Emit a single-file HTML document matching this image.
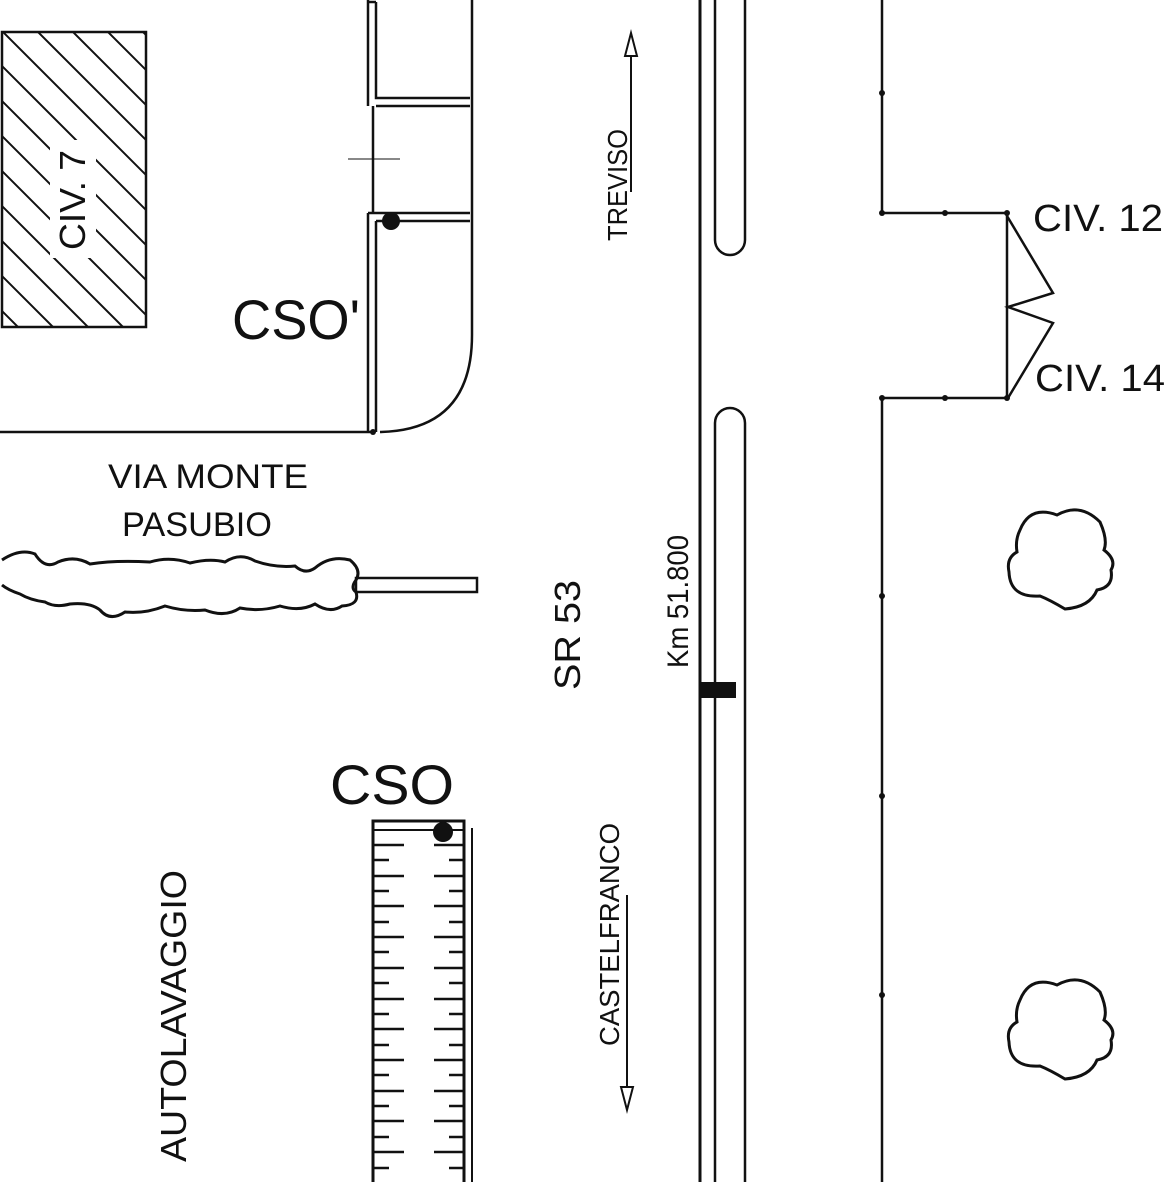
<!DOCTYPE html>
<html><head><meta charset="utf-8"><style>
html,body{margin:0;padding:0;background:#fff}
svg{display:block}
text{font-family:"Liberation Sans",sans-serif;fill:#111}
</style></head><body>
<svg width="1174" height="1182" viewBox="0 0 1174 1182" xmlns="http://www.w3.org/2000/svg">
<defs>
<clipPath id="hc"><rect x="2" y="32" width="144" height="295"/></clipPath>
</defs>
<g fill="none" stroke="#111" stroke-width="2.5">
<!-- hatched building -->
<g clip-path="url(#hc)" stroke-width="2">
<path d="M111 0 L511 400 M76 0 L476 400 M41 0 L441 400 M6 0 L406 400 M-29 0 L371 400 M-64 0 L336 400 M-99 0 L301 400 M-134 0 L266 400 M-169 0 L231 400 M-204 0 L196 400 M-239 0 L161 400 M-274 0 L126 400 M-309 0 L91 400 M-344 0 L56 400"/>
<rect x="50" y="140" width="46" height="118" fill="#fff" stroke="none"/>
</g>
<rect x="2" y="32" width="144" height="295"/>
<!-- building lines top -->
<path d="M368 0 V106 M376 2 V98 H470 M376 106 H470 M368 2 H376"/>
<path d="M373 106 V213"/>
<path d="M368 213 V432 M376 221 V432 M368 213 H470 M376 221 H470"/>
<path d="M472 0 V335 Q472 430 380 432"/>
<path d="M0 432 H373"/>
<path d="M348 159 H400" stroke-width="1"/>
<!-- cloud strip -->
<path d="M2 560 Q20 548 35 554 Q45 570 58 562 Q75 555 90 564 Q115 560 150 562 Q170 556 190 563 Q210 558 225 562 Q240 552 255 561 Q275 568 295 566 Q305 575 315 568 Q330 555 350 560 Q362 570 356 580 Q350 588 356 592 Q360 605 342 606 Q330 614 315 604 Q300 612 280 606 Q260 612 240 608 Q225 618 205 610 Q185 612 165 606 Q145 614 125 612 Q110 622 100 610 Q90 602 70 604 Q55 608 45 602 Q30 600 20 594 Q8 590 2 585" stroke-width="3"/>
<rect x="356" y="578" width="121" height="14"/>
<!-- main road -->
<path d="M700 0 V1182" stroke-width="3"/>
<path d="M715 0 V240 A15 15 0 0 0 745 240 V0"/>
<path d="M715 1182 V423 A15 15 0 0 1 745 423 V1182"/>
<!-- arrows -->
<path d="M631 192 V57" stroke-width="2"/>
<path d="M631 33 L625 56 H637 Z" stroke-width="2"/>
<path d="M627 895 V1087" stroke-width="2"/>
<path d="M627 1110 L621 1087 H633 Z" stroke-width="2"/>
<!-- right side -->
<path d="M882 0 V213 H1007 V398 H882 V1182"/>
<path d="M1007 216 L1053 293 L1008 307 L1053 323 L1008 398"/>
<!-- bushes -->
<path d="M1020 530 Q1030 505 1057 515 Q1080 502 1100 522 Q1108 540 1104 550 Q1117 560 1111 570 Q1114 587 1097 590 Q1090 607 1065 609 Q1050 600 1040 596 Q1010 598 1009 572 Q1006 558 1017 552 Q1015 540 1020 530 Z" stroke-width="3"/>
<path d="M1020 1000 Q1030 975 1057 985 Q1080 972 1100 992 Q1108 1010 1104 1020 Q1117 1030 1111 1040 Q1114 1057 1097 1060 Q1090 1077 1065 1079 Q1050 1070 1040 1066 Q1010 1068 1009 1042 Q1006 1028 1017 1022 Q1015 1010 1020 1000 Z" stroke-width="3"/>
<!-- ruler -->
<path d="M373 1182 V821 H464 V1182" stroke-width="3"/>
<path d="M373 830 H464" stroke-width="2"/>
<path d="M472 828 V1182" stroke-width="2"/>
</g>
<g stroke="#111" stroke-width="2.5">
<path d="M373 845H404M434 845H464M373 860H389M449 860H464M373 876H404M434 876H464M373 891H389M449 891H464M373 906H404M434 906H464M373 922H389M449 922H464M373 937H404M434 937H464M373 952H389M449 952H464M373 968H404M434 968H464M373 983H389M449 983H464M373 999H404M434 999H464M373 1014H389M449 1014H464M373 1029H404M434 1029H464M373 1045H389M449 1045H464M373 1060H404M434 1060H464M373 1075H389M449 1075H464M373 1091H404M434 1091H464M373 1106H389M449 1106H464M373 1121H404M434 1121H464M373 1137H389M449 1137H464M373 1152H404M434 1152H464M373 1168H389M449 1168H464"/>
</g>
<g fill="#111">
<circle cx="391" cy="221" r="9"/>
<circle cx="443" cy="832" r="10"/>
<rect x="700" y="682" width="36" height="16"/>
<circle cx="882" cy="93" r="3"/><circle cx="882" cy="213" r="3"/><circle cx="945" cy="213" r="3"/><circle cx="1007" cy="213" r="3"/>
<circle cx="882" cy="398" r="3"/><circle cx="945" cy="398" r="3"/><circle cx="1007" cy="398" r="3"/>
<circle cx="882" cy="596" r="3"/><circle cx="882" cy="796" r="3"/><circle cx="882" cy="995" r="3"/>
<circle cx="373" cy="432" r="3"/>
</g>
<!-- text -->
<text x="232" y="339" font-size="56" textLength="128" lengthAdjust="spacingAndGlyphs">CSO'</text>
<text x="330" y="804" font-size="56" textLength="124" lengthAdjust="spacingAndGlyphs">CSO</text>
<text x="108" y="488" font-size="34" textLength="200" lengthAdjust="spacingAndGlyphs">VIA MONTE</text>
<text x="122" y="536" font-size="34" textLength="150" lengthAdjust="spacingAndGlyphs">PASUBIO</text>
<text x="1033" y="231" font-size="38" textLength="130" lengthAdjust="spacingAndGlyphs">CIV. 12</text>
<text x="1035" y="391" font-size="38" textLength="130" lengthAdjust="spacingAndGlyphs">CIV. 14</text>
<text transform="translate(85,250) rotate(-90)" font-size="36" textLength="100" lengthAdjust="spacingAndGlyphs">CIV. 7</text>
<text transform="translate(186,1162) rotate(-90)" font-size="36" textLength="292" lengthAdjust="spacingAndGlyphs">AUTOLAVAGGIO</text>
<text transform="translate(627,241) rotate(-90)" font-size="28" textLength="112" lengthAdjust="spacingAndGlyphs">TREVISO</text>
<text transform="translate(619,1046) rotate(-90)" font-size="28" textLength="223" lengthAdjust="spacingAndGlyphs">CASTELFRANCO</text>
<text transform="translate(580,690) rotate(-90)" font-size="36" textLength="110" lengthAdjust="spacingAndGlyphs">SR 53</text>
<text transform="translate(688,668) rotate(-90)" font-size="30" textLength="133" lengthAdjust="spacingAndGlyphs">Km 51.800</text>
</svg>
</body></html>
